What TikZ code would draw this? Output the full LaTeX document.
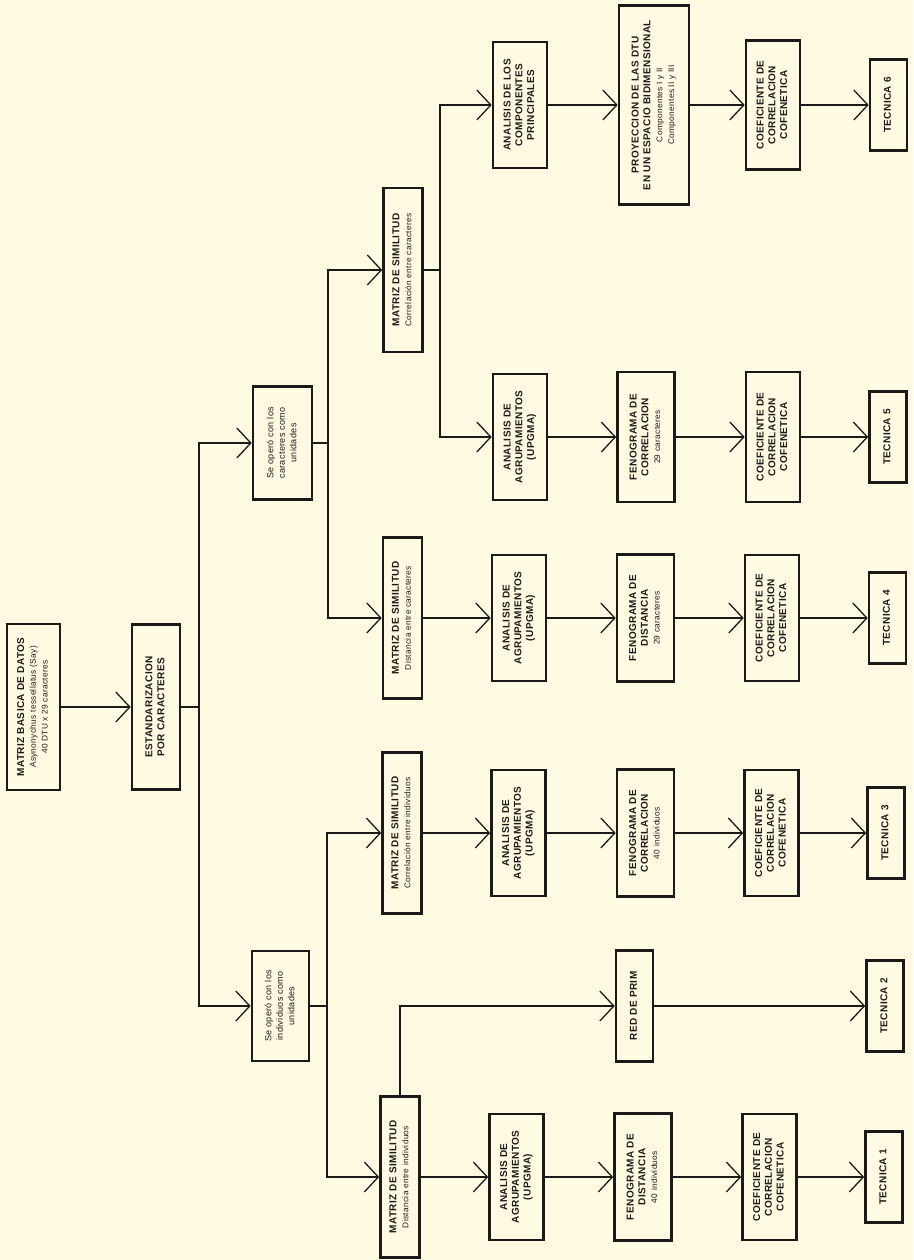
\documentclass[tikz,border=0pt]{standalone}
\usepackage{fontspec}
\setmainfont{Liberation Sans}[LetterSpace=4]
\usepackage{graphicx}
\usepackage{tikz}
\usetikzlibrary{arrows.meta}
\definecolor{fondo}{HTML}{FFFBE3}
\definecolor{tinta}{HTML}{1C1A18}
\newcommand{\vtexto}[1]{\rotatebox{90}{\begin{tabular}{@{}c@{}}#1\end{tabular}}}
\newcommand{\menor}[1]{{\fontsize{8.3}{11}\selectfont\mdseries #1}}

\tikzset{
  caja/.style={draw=tinta, line width=2.6pt, inner sep=0pt, text=tinta,
    font=\fontsize{10}{11.8}\selectfont\bfseries},
  matriz/.style={caja, minimum width=39pt, minimum height=161pt},
  analisis/.style={caja, minimum width=54pt, minimum height=126pt},
  fenog/.style={caja, minimum width=57pt, minimum height=127pt},
  tecnica/.style={caja, minimum width=37pt, minimum height=91pt},
  linea/.style={draw=tinta, line width=1.3pt},
  flecha/.style={linea, -{Straight Barb[length=14pt,width=30pt]}},
}

\begin{document}
\begin{tikzpicture}[x=1pt, y=-1pt]
\useasboundingbox (0,0) rectangle (913,1260);
\fill[fondo] (0,0) rectangle (913,1260);

% datos y estandarizacion
\node[caja, minimum width=53pt, minimum height=166pt] (raiz) at (33.5,707)
  {\vtexto{MATRIZ BASICA DE DATOS\\ \menor{Asynonychus tessellatus (Say)}\\ \menor{40 DTU x 29 caracteres}}};
\node[caja, minimum width=48pt, minimum height=165pt] (estand) at (156,707)
  {\vtexto{ESTANDARIZACION\\ POR CARACTERES}};
\node[caja, minimum width=59pt, minimum height=113pt, font=\fontsize{9}{11.5}\selectfont] (caract) at (282.5,443)
  {\vtexto{Se operó con los\\ caracteres como\\ unidades}};
\node[caja, minimum width=57pt, minimum height=110pt, font=\fontsize{9}{11.5}\selectfont] (indiv) at (280.5,1006)
  {\vtexto{Se operó con los\\ individuos como\\ unidades}};

% matrices de similitud
\node[matriz, minimum height=164pt] (mcc) at (403,270)
  {\vtexto{MATRIZ DE SIMILITUD\\ \menor{Correlación entre caracteres}}};
\node[matriz] (mdc) at (402.5,618)
  {\vtexto{MATRIZ DE SIMILITUD\\ \menor{Distancia entre caracteres}}};
\node[matriz] (mci) at (402,833)
  {\vtexto{MATRIZ DE SIMILITUD\\ \menor{Correlación entre individuos}}};
\node[matriz] (mdi) at (400,1177)
  {\vtexto{MATRIZ DE SIMILITUD\\ \menor{Distancia entre individuos}}};

% analisis
\node[analisis] (acp) at (520,105)
  {\vtexto{ANALISIS DE LOS\\ COMPONENTES\\ PRINCIPALES}};
\node[analisis] (agr5) at (520,437)
  {\vtexto{ANALISIS DE\\ AGRUPAMIENTOS\\ (UPGMA)}};
\node[analisis] (agr4) at (519,618)
  {\vtexto{ANALISIS DE\\ AGRUPAMIENTOS\\ (UPGMA)}};
\node[analisis] (agr3) at (518.5,833)
  {\vtexto{ANALISIS DE\\ AGRUPAMIENTOS\\ (UPGMA)}};
\node[analisis] (agr1) at (516.5,1177)
  {\vtexto{ANALISIS DE\\ AGRUPAMIENTOS\\ (UPGMA)}};

% fenogramas
\node[caja, minimum width=70pt, minimum height=199pt] (proy) at (654,105)
  {\vtexto{PROYECCION DE LAS DTU\\ EN UN ESPACIO BIDIMENSIONAL\\ \menor{Componentes I y II}\\ \menor{Componentes II y III}}};
\node[fenog, minimum height=130pt] (fen5) at (646,437)
  {\vtexto{FENOGRAMA DE\\ CORRELACION\\ \menor{29 caracteres}}};
\node[fenog] (fen4) at (645.5,618)
  {\vtexto{FENOGRAMA DE\\ DISTANCIA\\ \menor{29 caracteres}}};
\node[fenog] (fen3) at (645.5,833)
  {\vtexto{FENOGRAMA DE\\ CORRELACION\\ \menor{40 individuos}}};
\node[caja, minimum width=37pt, minimum height=111pt] (prim) at (634.5,1006)
  {\vtexto{RED DE PRIM}};
\node[fenog] (fen1) at (643,1177)
  {\vtexto{FENOGRAMA DE\\ DISTANCIA\\ \menor{40 individuos}}};

% coeficientes
\node[analisis, minimum height=129pt] (coef6) at (773,105)
  {\vtexto{COEFICIENTE DE\\ CORRELACION\\ COFENETICA}};
\node[analisis, minimum height=130pt] (coef5) at (773,437)
  {\vtexto{COEFICIENTE DE\\ CORRELACION\\ COFENETICA}};
\node[analisis] (coef4) at (772,618)
  {\vtexto{COEFICIENTE DE\\ CORRELACION\\ COFENETICA}};
\node[analisis] (coef3) at (771.5,833)
  {\vtexto{COEFICIENTE DE\\ CORRELACION\\ COFENETICA}};
\node[analisis] (coef1) at (769.5,1177)
  {\vtexto{COEFICIENTE DE\\ CORRELACION\\ COFENETICA}};

% tecnicas
\node[tecnica] (t6) at (888.5,105) {\vtexto{TECNICA 6}};
\node[tecnica] (t5) at (888,437) {\vtexto{TECNICA 5}};
\node[tecnica] (t4) at (887.5,618) {\vtexto{TECNICA 4}};
\node[tecnica] (t3) at (886,833) {\vtexto{TECNICA 3}};
\node[tecnica] (t2) at (885,1006) {\vtexto{TECNICA 2}};
\node[tecnica] (t1) at (884,1177) {\vtexto{TECNICA 1}};

% ramificaciones
\coordinate (b1) at (199,707);
\coordinate (b2) at (328,443);
\coordinate (b3) at (327,1006);
\coordinate (b4) at (440,270);
\draw[flecha] (raiz) -- (estand);
\draw[linea] (estand.east) -- (b1);
\draw[flecha] (b1) |- (caract.west);
\draw[flecha] (b1) |- (indiv.west);
\draw[linea] (caract.east) -- (b2);
\draw[flecha] (b2) |- (mcc.west);
\draw[flecha] (b2) |- (mdc.west);
\draw[linea] (indiv.east) -- (b3);
\draw[flecha] (b3) |- (mci.west);
\draw[flecha] (b3) |- (mdi.west);
\draw[linea] (mcc.east) -- (b4);
\draw[flecha] (b4) |- (acp.west);
\draw[flecha] (b4) |- (agr5.west);
\draw[flecha] (mdi.north) |- (prim.west);

% cadenas
\foreach \a/\b in {acp/proy, proy/coef6, coef6/t6,
    agr5/fen5, fen5/coef5, coef5/t5,
    mdc/agr4, agr4/fen4, fen4/coef4, coef4/t4,
    mci/agr3, agr3/fen3, fen3/coef3, coef3/t3,
    prim/t2,
    mdi/agr1, agr1/fen1, fen1/coef1, coef1/t1}
  \draw[flecha] (\a) -- (\b);
\end{tikzpicture}
\end{document}
